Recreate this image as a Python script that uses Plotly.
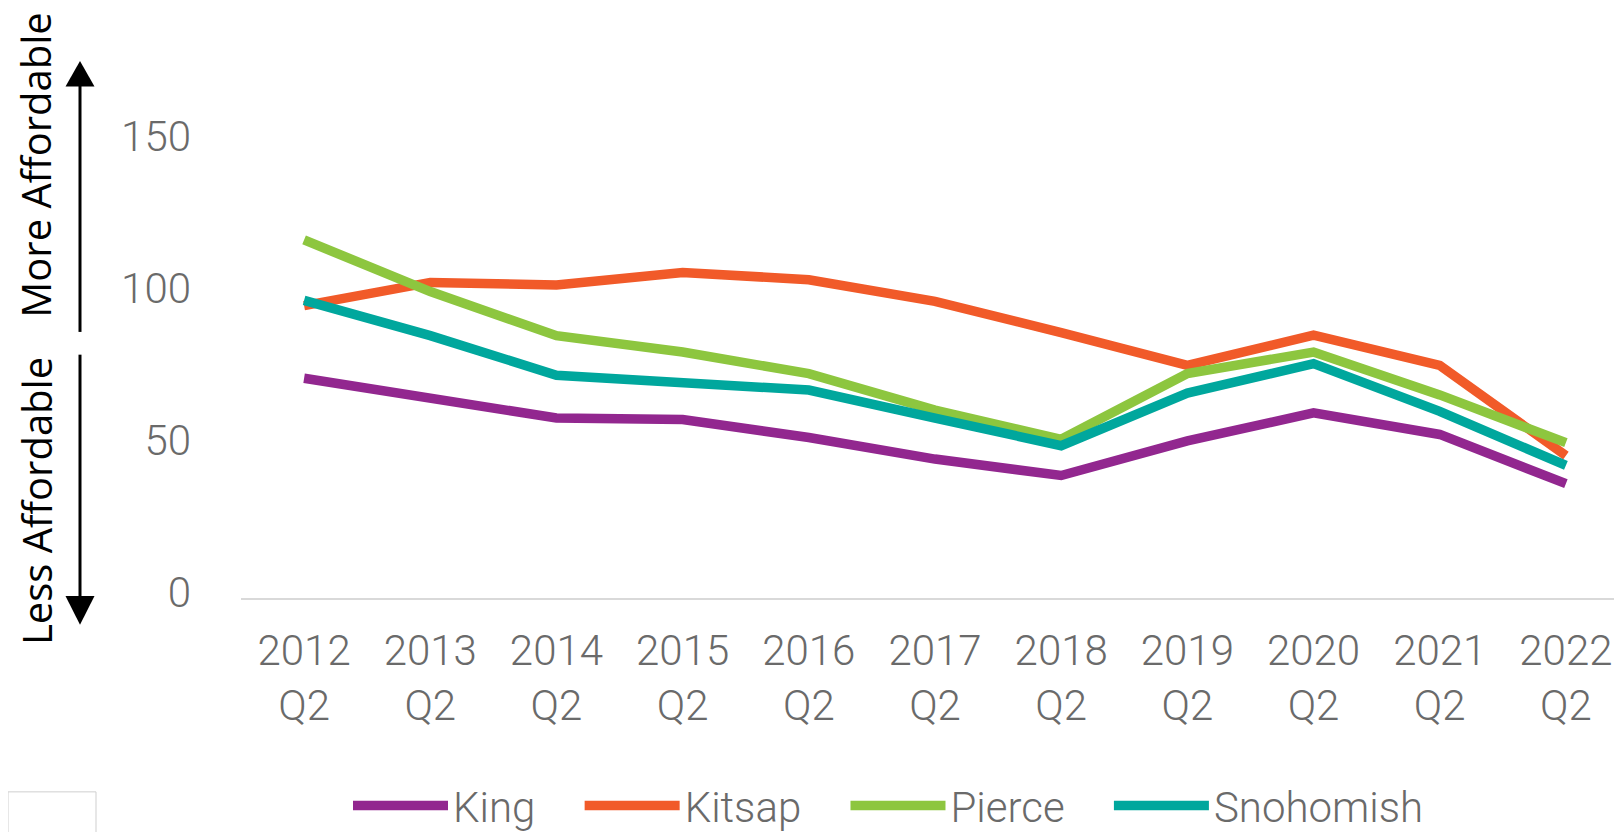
import plotly.graph_objects as go

categories = ["2012<br>Q2", "2013<br>Q2", "2014<br>Q2", "2015<br>Q2", "2016<br>Q2", "2017<br>Q2",
              "2018<br>Q2", "2019<br>Q2", "2020<br>Q2", "2021<br>Q2", "2022<br>Q2"]
king = [72.3, 65.7, 59.2, 58.7, 52.8, 45.7, 40.3, 51.7, 60.9, 53.8, 37.6]
kitsap = [96.2, 103.8, 103.0, 107.1, 104.7, 97.6, 87.3, 76.5, 86.5, 76.5, 46.8]
pierce = [117.8, 100.8, 86.3, 80.9, 73.8, 61.8, 52.2, 73.8, 80.9, 66.8, 51.1]
snohomish = [97.9, 86.3, 73.3, 70.6, 68.4, 59.2, 50.1, 67.4, 77.1, 61.4, 43.6]
series = [("King", king, "#92278f"), ("Kitsap", kitsap, "#f15a29"),
          ("Pierce", pierce, "#8dc63f"), ("Snohomish", snohomish, "#00a79d")]
y_ticks = [0, 50, 100, 150]

W, H = 1622, 832
L, R, T, B = 233, 1, 134, 237
PW, PH = W - L - R, H - T - B

def px(x):
    return (x - L) / PW

def py(y):
    return (H - B - y) / PH

FONT = "Roboto, Liberation Sans, Arial, sans-serif"
SIDE_FONT = "Open Sans, Liberation Sans, Arial, sans-serif"
GRAY = "#6a6a6a"
GAP = "\u00a0\u00a0\u00a0\u2009"

fig = go.Figure()
for i, (name, vals, color) in enumerate(series):
    label = name + (GAP if i < len(series) - 1 else "")
    fig.add_trace(go.Scatter(x=categories, y=vals, name=label, mode="lines",
                             line=dict(color=color, width=9.5)))

shapes = []
ax = 72
shapes.append(dict(type="line", xref="paper", yref="paper", x0=px(ax), x1=px(ax),
                   y0=py(76), y1=py(326), line=dict(color="black", width=3)))
shapes.append(dict(type="line", xref="paper", yref="paper", x0=px(ax), x1=px(ax),
                   y0=py(349), y1=py(595), line=dict(color="black", width=3)))
shapes.append(dict(type="path", xref="paper", yref="paper",
                   path=f"M {px(ax)} {py(52)} L {px(ax-14.5)} {py(78)} L {px(ax+14.5)} {py(78)} Z",
                   fillcolor="black", line=dict(color="black", width=0)))
shapes.append(dict(type="path", xref="paper", yref="paper",
                   path=f"M {px(ax)} {py(622)} L {px(ax-14.5)} {py(593)} L {px(ax+14.5)} {py(593)} Z",
                   fillcolor="black", line=dict(color="black", width=0)))
shapes.append(dict(type="rect", xref="paper", yref="paper", x0=px(0), x1=px(88),
                   y0=py(840), y1=py(791), line=dict(color="#cfcfcf", width=1)))

annotations = [
    dict(text="More Affordable", textangle=-90, xref="paper", yref="paper",
         x=px(28), y=py(157), showarrow=False, xanchor="center", yanchor="middle",
         font=dict(family=SIDE_FONT, size=40, color="black")),
    dict(text="Less Affordable", textangle=-90, xref="paper", yref="paper",
         x=px(28), y=py(497), showarrow=False, xanchor="center", yanchor="middle",
         font=dict(family=SIDE_FONT, size=40, color="black")),
]

tickfont = dict(family=FONT, size=42, color=GRAY, weight=300)

fig.update_layout(
    width=W, height=H,
    margin=dict(l=L, r=R, t=T, b=B, pad=0),
    paper_bgcolor="white", plot_bgcolor="white",
    font=dict(family=FONT, size=42, color=GRAY),
    showlegend=True,
    legend=dict(orientation="h", x=px(340), xanchor="left", y=py(805), yanchor="middle",
                font=tickfont, itemwidth=95, bgcolor="rgba(0,0,0,0)"),
    xaxis=dict(range=[-0.5, 10.5], showgrid=False, zeroline=False, showline=True,
               linecolor="#d9d9d9", linewidth=2, ticks="", ticklabelstandoff=15,
               tickfont=tickfont, fixedrange=True),
    yaxis=dict(range=[0, 150], tickvals=y_ticks, showgrid=False, zeroline=False,
               showline=False, ticks="", ticklabelstandoff=49, ticklabelshift=-6,
               tickfont=tickfont, fixedrange=True),
    shapes=shapes, annotations=annotations,
)

fig.write_html("out.html")
